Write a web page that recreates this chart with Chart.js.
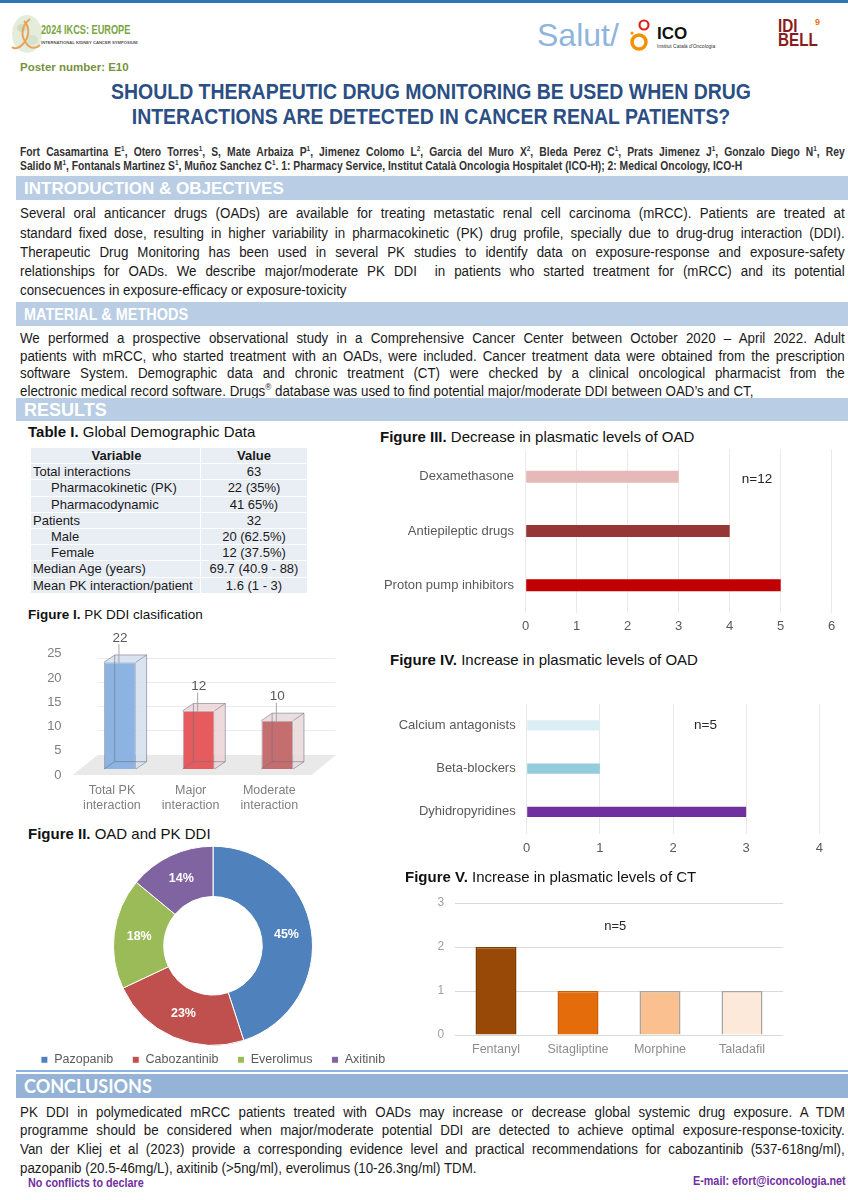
<!DOCTYPE html>
<html><head><meta charset="utf-8">
<script src="https://cdn.jsdelivr.net/npm/chart.js@4.4.1/dist/chart.umd.min.js"></script>
<style>
html,body{margin:0;padding:0;background:#fff;}
body{width:848px;height:1200px;position:relative;overflow:hidden;font-family:"Liberation Sans",Arial,sans-serif;color:#222;}
.abs{position:absolute;white-space:nowrap;}
.band{position:absolute;left:16px;right:0;height:24px;background:#b9cde5;color:#fff;font-weight:bold;font-size:17px;line-height:25px;padding-left:8px;font-family:"Liberation Sans",Arial,sans-serif;}
.band span{display:inline-block;transform-origin:0 50%;}
.para{position:absolute;left:20px;width:959px;transform:scaleX(0.86);transform-origin:0 0;color:#1a1a1a;}
.jl{white-space:nowrap;text-align:justify;text-align-last:justify;}
.jl.last{text-align-last:left;}
sup{font-size:0.62em;line-height:0;vertical-align:super;}
.figt{position:absolute;font-size:15px;color:#111;white-space:nowrap;line-height:18px;}
canvas{position:absolute;}
table.demo{position:absolute;left:31px;top:448px;width:276px;border-collapse:collapse;background:#e9edf4;font-size:13px;color:#1a1a1a;}
table.demo td{padding:0 0 0 2px;height:15.2px;line-height:15px;border-bottom:1px solid #fff;white-space:nowrap;}
table.demo td.v{text-align:center;border-left:1px solid #fff;padding:0;}
table.demo tr.h td{font-weight:bold;text-align:center;}
</style></head>
<body>
<!-- header -->
<div class="abs" style="left:0;top:0;width:848px;height:3px;background:#2e75b6;"></div>
<svg class="abs" style="left:10px;top:13px" width="34" height="42" viewBox="0 0 34 42">
  <ellipse cx="17" cy="21" rx="15" ry="19" fill="#e4eddc"/>
  <ellipse cx="12" cy="15" rx="5" ry="4" fill="#cfdcc2"/>
  <ellipse cx="22" cy="27" rx="6" ry="5" fill="#d6e2cb"/>
  <path d="M20 6 C12 12, 10 22, 16 30 C20 36, 26 36, 30 32" stroke="#e8a35a" stroke-width="2" fill="none"/>
  <path d="M14 8 C20 14, 20 24, 12 32 C8 36, 4 36, 2 34" stroke="#e8a35a" stroke-width="2" fill="none"/>
</svg>
<div class="abs" style="left:41px;top:22px;font-size:13.5px;font-weight:bold;color:#78a642;transform:scaleX(0.68);transform-origin:0 0;">2024 IKCS: EUROPE</div>
<div class="abs" style="left:41px;top:40px;font-size:4.2px;font-weight:bold;color:#555;">INTERNATIONAL KIDNEY CANCER SYMPOSIUM</div>
<div class="abs" style="left:537px;top:17px;font-size:32px;color:#8fb4de;">Salut/</div>
<svg class="abs" style="left:628px;top:16px" width="30" height="40" viewBox="0 0 30 40">
  <circle cx="16" cy="9" r="4.5" stroke="#e0231a" stroke-width="2.2" fill="none"/>
  <circle cx="11" cy="26" r="7" stroke="#f39200" stroke-width="3.5" fill="none"/>
  <circle cx="4" cy="17" r="1.6" fill="#f39200"/>
</svg>
<div class="abs" style="left:657px;top:24px;font-size:17px;font-weight:bold;color:#111;">ICO</div>
<div class="abs" style="left:657px;top:43px;font-size:5px;color:#333;">Institut Català d'Oncologia</div>
<div class="abs" style="left:778px;top:19px;font-size:18px;font-weight:bold;color:#8b1c1c;line-height:14px;transform:scaleX(0.85);transform-origin:0 0;">IDI<br>BELL</div>
<div class="abs" style="left:815px;top:17px;font-size:9px;font-weight:bold;color:#e8751a;">9</div>
<div class="abs" style="left:20px;top:61px;font-size:11.5px;font-weight:bold;color:#76923c;">Poster number: E10</div>

<div class="abs" style="left:0;width:862px;top:79px;text-align:center;font-size:22px;font-weight:bold;color:#2b4e84;line-height:25px;transform:scaleX(0.885);transform-origin:431px 0;">SHOULD THERAPEUTIC DRUG MONITORING BE USED WHEN DRUG<br>INTERACTIONS ARE DETECTED IN CANCER RENAL PATIENTS?</div>

<div class="para" style="top:145px;font-size:12px;font-weight:bold;line-height:14px;color:#333;">
<div class="jl">Fort Casamartina E<sup>1</sup>, Otero Torres<sup>1</sup>, S, Mate Arbaiza P<sup>1</sup>, Jimenez Colomo L<sup>2</sup>, Garcia del Muro X<sup>2</sup>, Bleda Perez C<sup>1</sup>, Prats Jimenez J<sup>1</sup>, Gonzalo Diego N<sup>1</sup>, Rey</div>
<div class="jl last">Salido M<sup>1</sup>, Fontanals Martinez S<sup>1</sup>, Muñoz Sanchez C<sup>1</sup>. 1: Pharmacy Service, Institut Català Oncologia Hospitalet (ICO-H); 2: Medical Oncology, ICO-H</div>
</div>

<div class="band" style="top:176px;">INTRODUCTION &amp; OBJECTIVES</div>
<div class="para" style="top:203.4px;font-size:15.5px;line-height:19.25px;">
<div class="jl">Several oral anticancer drugs (OADs) are available for treating metastatic renal cell carcinoma (mRCC). Patients are treated at</div>
<div class="jl">standard fixed dose, resulting in higher variability in pharmacokinetic (PK) drug profile, specially due to drug-drug interaction (DDI).</div>
<div class="jl">Therapeutic Drug Monitoring has been used in several PK studies to identify data on exposure-response and exposure-safety</div>
<div class="jl">relationships for OADs. We describe major/moderate PK DDI&nbsp; in patients who started treatment for (mRCC) and its potential</div>
<div class="jl last">consecuences in exposure-efficacy or exposure-toxicity</div>
</div>
<div class="band" style="top:302px;"><span style="transform:scaleX(0.85);">MATERIAL &amp; METHODS</span></div>
<div class="para" style="top:329.2px;font-size:15.5px;line-height:17.5px;">
<div class="jl">We performed a prospective observational study in a Comprehensive Cancer Center between October 2020 – April 2022. Adult</div>
<div class="jl">patients with mRCC, who started treatment with an OADs, were included. Cancer treatment data were obtained from the prescription</div>
<div class="jl">software System. Demographic data and chronic treatment (CT) were checked by a clinical oncological pharmacist from the</div>
<div class="jl last">electronic medical record software. Drugs<sup>®</sup> database was used to find potential major/moderate DDI between OAD’s and CT,</div>
</div>
<div class="band" style="top:398px;height:23px;line-height:24px;font-size:18px;">RESULTS</div>

<div class="figt" style="left:28px;top:423px;"><b>Table I.</b> Global Demographic Data</div>
<table class="demo" id="demo"></table>

<div class="figt" style="left:28px;top:606px;font-size:13.5px;"><b>Figure I.</b> PK DDI clasification</div>
<canvas id="fig1" width="330" height="200" style="left:20px;top:620px;"></canvas>

<div class="figt" style="left:28px;top:825px;"><b>Figure II.</b> OAD and PK DDI</div>
<canvas id="fig2" width="400" height="236" style="left:13px;top:840px;"></canvas>

<div class="figt" style="left:380px;top:428px;"><b>Figure III.</b> Decrease in plasmatic levels of OAD</div>
<canvas id="fig3" width="478" height="210" style="left:370px;top:430px;"></canvas>

<div class="figt" style="left:390px;top:651px;"><b>Figure IV.</b> Increase in plasmatic levels of OAD</div>
<canvas id="fig4" width="478" height="180" style="left:370px;top:685px;"></canvas>

<div class="figt" style="left:405px;top:868px;"><b>Figure V.</b> Increase in plasmatic levels of CT</div>
<canvas id="fig5" width="448" height="185" style="left:400px;top:885px;"></canvas>

<div class="abs" style="left:16px;top:1070px;width:832px;height:2px;background:#8db3e2;"></div>
<div class="band" style="top:1074px;background:#95b3d7;font-family:Lato,'Open Sans',sans-serif;font-size:18px;">CONCLUSIONS</div>
<div class="para" style="top:1102.6px;font-size:15.5px;line-height:18.7px;">
<div class="jl">PK DDI in polymedicated mRCC patients treated with OADs may increase or decrease global systemic drug exposure. A TDM</div>
<div class="jl">programme should be considered when major/moderate potential DDI are detected to achieve optimal exposure-response-toxicity.</div>
<div class="jl">Van der Kliej et al (2023) provide a corresponding evidence level and practical recommendations for cabozantinib (537-618ng/ml),</div>
<div class="jl last">pazopanib (20.5-46mg/L), axitinib (&gt;5ng/ml), everolimus (10-26.3ng/ml) TDM.</div>
</div>
<div class="abs" style="left:28px;top:1176px;font-size:12px;font-weight:bold;color:#7030a0;transform:scaleX(0.9);transform-origin:0 0;">No conflicts to declare</div>
<div class="abs" style="right:2px;top:1174px;font-size:12px;font-weight:bold;color:#7030a0;transform:scaleX(0.9);transform-origin:100% 0;">E-mail: efort@iconcologia.net</div>

<script>
// ---------------- data ----------------
const tableVariables = ['Total interactions','Pharmacokinetic (PK)','Pharmacodynamic','Patients','Male','Female','Median Age (years)','Mean PK interaction/patient'];
const tableValues = ['63','22 (35%)','41 65%)','32','20 (62.5%)','12 (37.5%)','69.7 (40.9 - 88)','1.6 (1 - 3)'];
const tableIndented = [false,true,true,false,true,true,false,false];

const fig1Labels = [['Total PK','interaction'],['Major','interaction'],['Moderate','interaction']];
const fig1Values = [22,12,10];

const fig2Labels = ['Pazopanib','Cabozantinib','Everolimus','Axitinib'];
const fig2Values = [45,23,18,14];

const fig3Labels = ['Dexamethasone','Antiepileptic drugs','Proton pump inhibitors'];
const fig3Values = [3,4,5];

const fig4Labels = ['Calcium antagonists','Beta-blockers','Dyhidropyridines'];
const fig4Values = [1,1,3];

const fig5Labels = ['Fentanyl','Sitagliptine','Morphine','Taladafil'];
const fig5Values = [2,1,1,1];

// ---------------- styles ----------------
const fig1Front = ['#8db3e2','#e65c5e','#c46e6f'];
const fig1Side = ['rgba(214,224,238,0.9)','rgba(236,214,216,0.9)','rgba(232,218,220,0.9)'];
const fig2Colors = ['#4f81bd','#c0504d','#9bbb59','#8064a2'];
const fig3Colors = ['#e6b9b8','#953735','#c00000'];
const fig4Colors = ['#dbeef4','#93cddd','#7030a0'];
const fig5Colors = ['#984807','#e46c0a','#fac090','#fde9d9'];
const fig5Borders = ['#7f3c06','#c65f0a','#a6a6a6','#a6a6a6'];

// ---------------- table ----------------
(function(){
  const t = document.getElementById('demo');
  let html = '<tr class="h"><td style="width:167px">Variable</td><td class="v">Value</td></tr>';
  tableVariables.forEach((v,i)=>{
    html += '<tr><td style="padding-left:'+(tableIndented[i]?20:2)+'px">'+v+'</td><td class="v">'+tableValues[i]+'</td></tr>';
  });
  t.innerHTML = html;
})();

// ---------------- charts ----------------
Chart.defaults.font.family = "'Liberation Sans', Arial, sans-serif";
Chart.defaults.animation = false;
Chart.defaults.responsive = false;
Chart.defaults.devicePixelRatio = 1;
Chart.defaults.plugins.tooltip.enabled = false;

const noteText = {
  id: 'noteText',
  afterDatasetsDraw(chart, args, o) {
    if (!o || !o.text) return;
    const {ctx, scales} = chart;
    ctx.save();
    ctx.font = (o.size || 13) + "px 'Liberation Sans', Arial, sans-serif";
    ctx.fillStyle = '#262626';
    ctx.textAlign = 'center'; ctx.textBaseline = 'middle';
    ctx.fillText(o.text, scales.x.getPixelForValue(o.x), scales.y.getPixelForValue(o.y));
    ctx.restore();
  }
};

const DX = 10.7, DY = -7.3;
function poly(ctx, pts){ ctx.beginPath(); ctx.moveTo(pts[0][0], pts[0][1]); for (let i=1;i<pts.length;i++) ctx.lineTo(pts[i][0], pts[i][1]); ctx.closePath(); }
const box3d = {
  id: 'box3d',
  beforeDatasetsDraw(chart) {
    const {ctx, chartArea: a, scales: {y}} = chart;
    const y0 = y.getPixelForValue(0);
    ctx.save();
    ctx.strokeStyle = '#ebebeb'; ctx.lineWidth = 1;
    y.ticks.forEach(t => {
      if (t.value === 0) return;
      const py = Math.round(y.getPixelForValue(t.value) + 10) + 0.5;
      ctx.beginPath(); ctx.moveTo(a.left + 17, py); ctx.lineTo(a.right + 19, py); ctx.stroke();
    });
    ctx.fillStyle = '#e9e9e9';
    poly(ctx, [[a.left - 8, y0 + 6],[a.right - 5, y0 + 6],[a.right + 19, y0 - 14],[a.left + 17, y0 - 14]]);
    ctx.fill();
    const meta = chart.getDatasetMeta(0);
    meta.data.forEach((bar, i) => {
      const L = bar.x - bar.width/2, R = bar.x + bar.width/2, T = bar.y, B = bar.base;
      ctx.fillStyle = fig1Side[i];
      poly(ctx, [[R,T],[R+DX,T+DY],[R+DX,B+DY],[R,B]]); ctx.fill();
      poly(ctx, [[L,T],[R,T],[R+DX,T+DY],[L+DX,T+DY]]); ctx.fill();
    });
    ctx.restore();
  },
  afterDatasetsDraw(chart) {
    const {ctx} = chart;
    const meta = chart.getDatasetMeta(0);
    ctx.save();
    ctx.lineWidth = 1;
    meta.data.forEach((bar, i) => {
      const L = bar.x - bar.width/2, R = bar.x + bar.width/2, T = bar.y, B = bar.base;
      ctx.strokeStyle = 'rgba(105,110,130,0.55)';
      ctx.beginPath();
      ctx.moveTo(L+DX, T+DY); ctx.lineTo(L+DX, B+DY); ctx.lineTo(R+DX, B+DY);
      ctx.moveTo(L, T); ctx.lineTo(L+DX, T+DY); ctx.lineTo(R+DX, T+DY); ctx.lineTo(R, T);
      ctx.moveTo(R+DX, T+DY); ctx.lineTo(R+DX, B+DY); ctx.lineTo(R, B);
      ctx.moveTo(L, B); ctx.lineTo(L+DX, B+DY);
      ctx.stroke();
      ctx.strokeStyle = '#a6a6a6';
      ctx.beginPath(); ctx.moveTo(bar.x - 1, T - 18); ctx.lineTo(bar.x - 1, T + 1); ctx.stroke();
      ctx.fillStyle = '#595959';
      ctx.font = "13.5px 'Liberation Sans', Arial, sans-serif";
      ctx.textAlign = 'center'; ctx.textBaseline = 'middle';
      ctx.fillText(String(chart.data.datasets[0].data[i]), bar.x, T - 24);
    });
    ctx.restore();
  }
};

// Figure I
new Chart(document.getElementById('fig1'), {
  type: 'bar',
  data: { labels: fig1Labels, datasets: [{ data: fig1Values, backgroundColor: fig1Front, borderColor: 'rgba(90,100,130,0.5)', borderWidth: 1, barPercentage: 0.45, categoryPercentage: 0.9 }] },
  options: {
    layout: { padding: { top: 27.7, right: 33.3, left: 0, bottom: 0 } },
    plugins: { legend: { display: false } },
    scales: {
      x: { grid: { display: false, drawTicks: false }, border: { display: false },
           ticks: { color: '#7f7f7f', font: { size: 12.5 }, padding: 14, labelOffset: -8, maxRotation: 0, autoSkip: false },
           afterFit: s => { s.height = 51; } },
      y: { min: 0, max: 25, grid: { display: false, drawTicks: false }, border: { display: false },
           ticks: { stepSize: 5, color: '#7f7f7f', font: { size: 13 }, padding: 19, labelOffset: 6 },
           afterFit: s => { s.width = 60.6; } }
    }
  },
  plugins: [box3d]
});

// Figure II
const arcLabels = {
  id: 'arcLabels',
  afterDatasetsDraw(chart) {
    const {ctx} = chart;
    const meta = chart.getDatasetMeta(0);
    ctx.save();
    ctx.font = "bold 12.5px 'Liberation Sans', Arial, sans-serif";
    ctx.fillStyle = '#ffffff'; ctx.textAlign = 'center'; ctx.textBaseline = 'middle';
    meta.data.forEach((arc, i) => {
      const p = arc.tooltipPosition();
      ctx.fillText(chart.data.datasets[0].data[i] + '%', p.x, p.y);
    });
    ctx.restore();
  }
};
new Chart(document.getElementById('fig2'), {
  type: 'doughnut',
  data: { labels: fig2Labels, datasets: [{ data: fig2Values, backgroundColor: fig2Colors, borderColor: '#ffffff', borderWidth: 1, radius: 99.5, clip: false }] },
  options: {
    cutout: '49.5%',
    layout: { padding: { top: 17 } },
    plugins: { legend: { position: 'bottom', labels: { boxWidth: 7, boxHeight: 7, padding: 19, color: '#595959', font: { size: 12.5 } } } }
  },
  plugins: [arcLabels]
});

// Figure III
new Chart(document.getElementById('fig3'), {
  type: 'bar',
  data: { labels: fig3Labels, datasets: [{ data: fig3Values, backgroundColor: fig3Colors, barPercentage: 0.22, categoryPercentage: 1 }] },
  options: {
    indexAxis: 'y',
    layout: { padding: { top: 6, right: 16.3, left: 0, bottom: 0 } },
    plugins: { legend: { display: false }, noteText: { text: 'n=12', x: 4.535, y: 0.05, size: 13.5 } },
    scales: {
      x: { min: 0, max: 6, grid: { color: '#e9e9e9', drawTicks: false }, border: { display: false },
           ticks: { stepSize: 1, color: '#595959', font: { size: 13 }, padding: 6.4 },
           afterFit: s => { s.height = 27.5; } },
      y: { grid: { display: false, drawTicks: false }, border: { display: false },
           ticks: { color: '#595959', font: { size: 13 }, padding: 11.7 },
           afterFit: s => { s.width = 155.7; } }
    }
  },
  plugins: [noteText]
});

// Figure IV
new Chart(document.getElementById('fig4'), {
  type: 'bar',
  data: { labels: fig4Labels, datasets: [{ data: fig4Values, backgroundColor: fig4Colors, barPercentage: 0.234, categoryPercentage: 1 }] },
  options: {
    indexAxis: 'y',
    layout: { padding: { top: 7.5, right: 28.7, left: 0, bottom: 0 } },
    plugins: { legend: { display: false }, noteText: { text: 'n=5', x: 2.444, y: 0, size: 13.5 } },
    scales: {
      x: { min: 0, max: 4, grid: { color: '#e9e9e9', drawTicks: false }, border: { display: false },
           ticks: { stepSize: 1, color: '#595959', font: { size: 13 }, padding: 6.7 },
           afterFit: s => { s.height = 31.5; } },
      y: { grid: { display: false, drawTicks: false }, border: { display: false },
           ticks: { color: '#595959', font: { size: 13 }, padding: 11 },
           afterFit: s => { s.width = 156.7; } }
    }
  },
  plugins: [noteText]
});

// Figure V
new Chart(document.getElementById('fig5'), {
  type: 'bar',
  data: { labels: fig5Labels, datasets: [{ data: fig5Values, backgroundColor: fig5Colors, borderColor: fig5Borders, borderWidth: 1.5, barPercentage: 0.5, categoryPercentage: 1 }] },
  options: {
    layout: { padding: { top: 12, right: 65, left: 0, bottom: 0 } },
    plugins: { legend: { display: false }, noteText: { text: 'n=5', x: 1.455, y: 2.463, size: 13 } },
    scales: {
      x: { grid: { display: false, drawTicks: false }, border: { display: false },
           ticks: { color: '#8c8c8c', font: { size: 12.5 }, padding: 7.5 },
           afterFit: s => { s.height = 35; } },
      y: { min: 0, max: 3, grid: { color: '#d9d9d9', drawTicks: false }, border: { display: false },
           ticks: { stepSize: 1, color: '#a0a0a0', font: { size: 12 }, padding: 10.8 },
           afterFit: s => { s.width = 55; } }
    }
  },
  plugins: [noteText]
});
</script>
</body></html>
